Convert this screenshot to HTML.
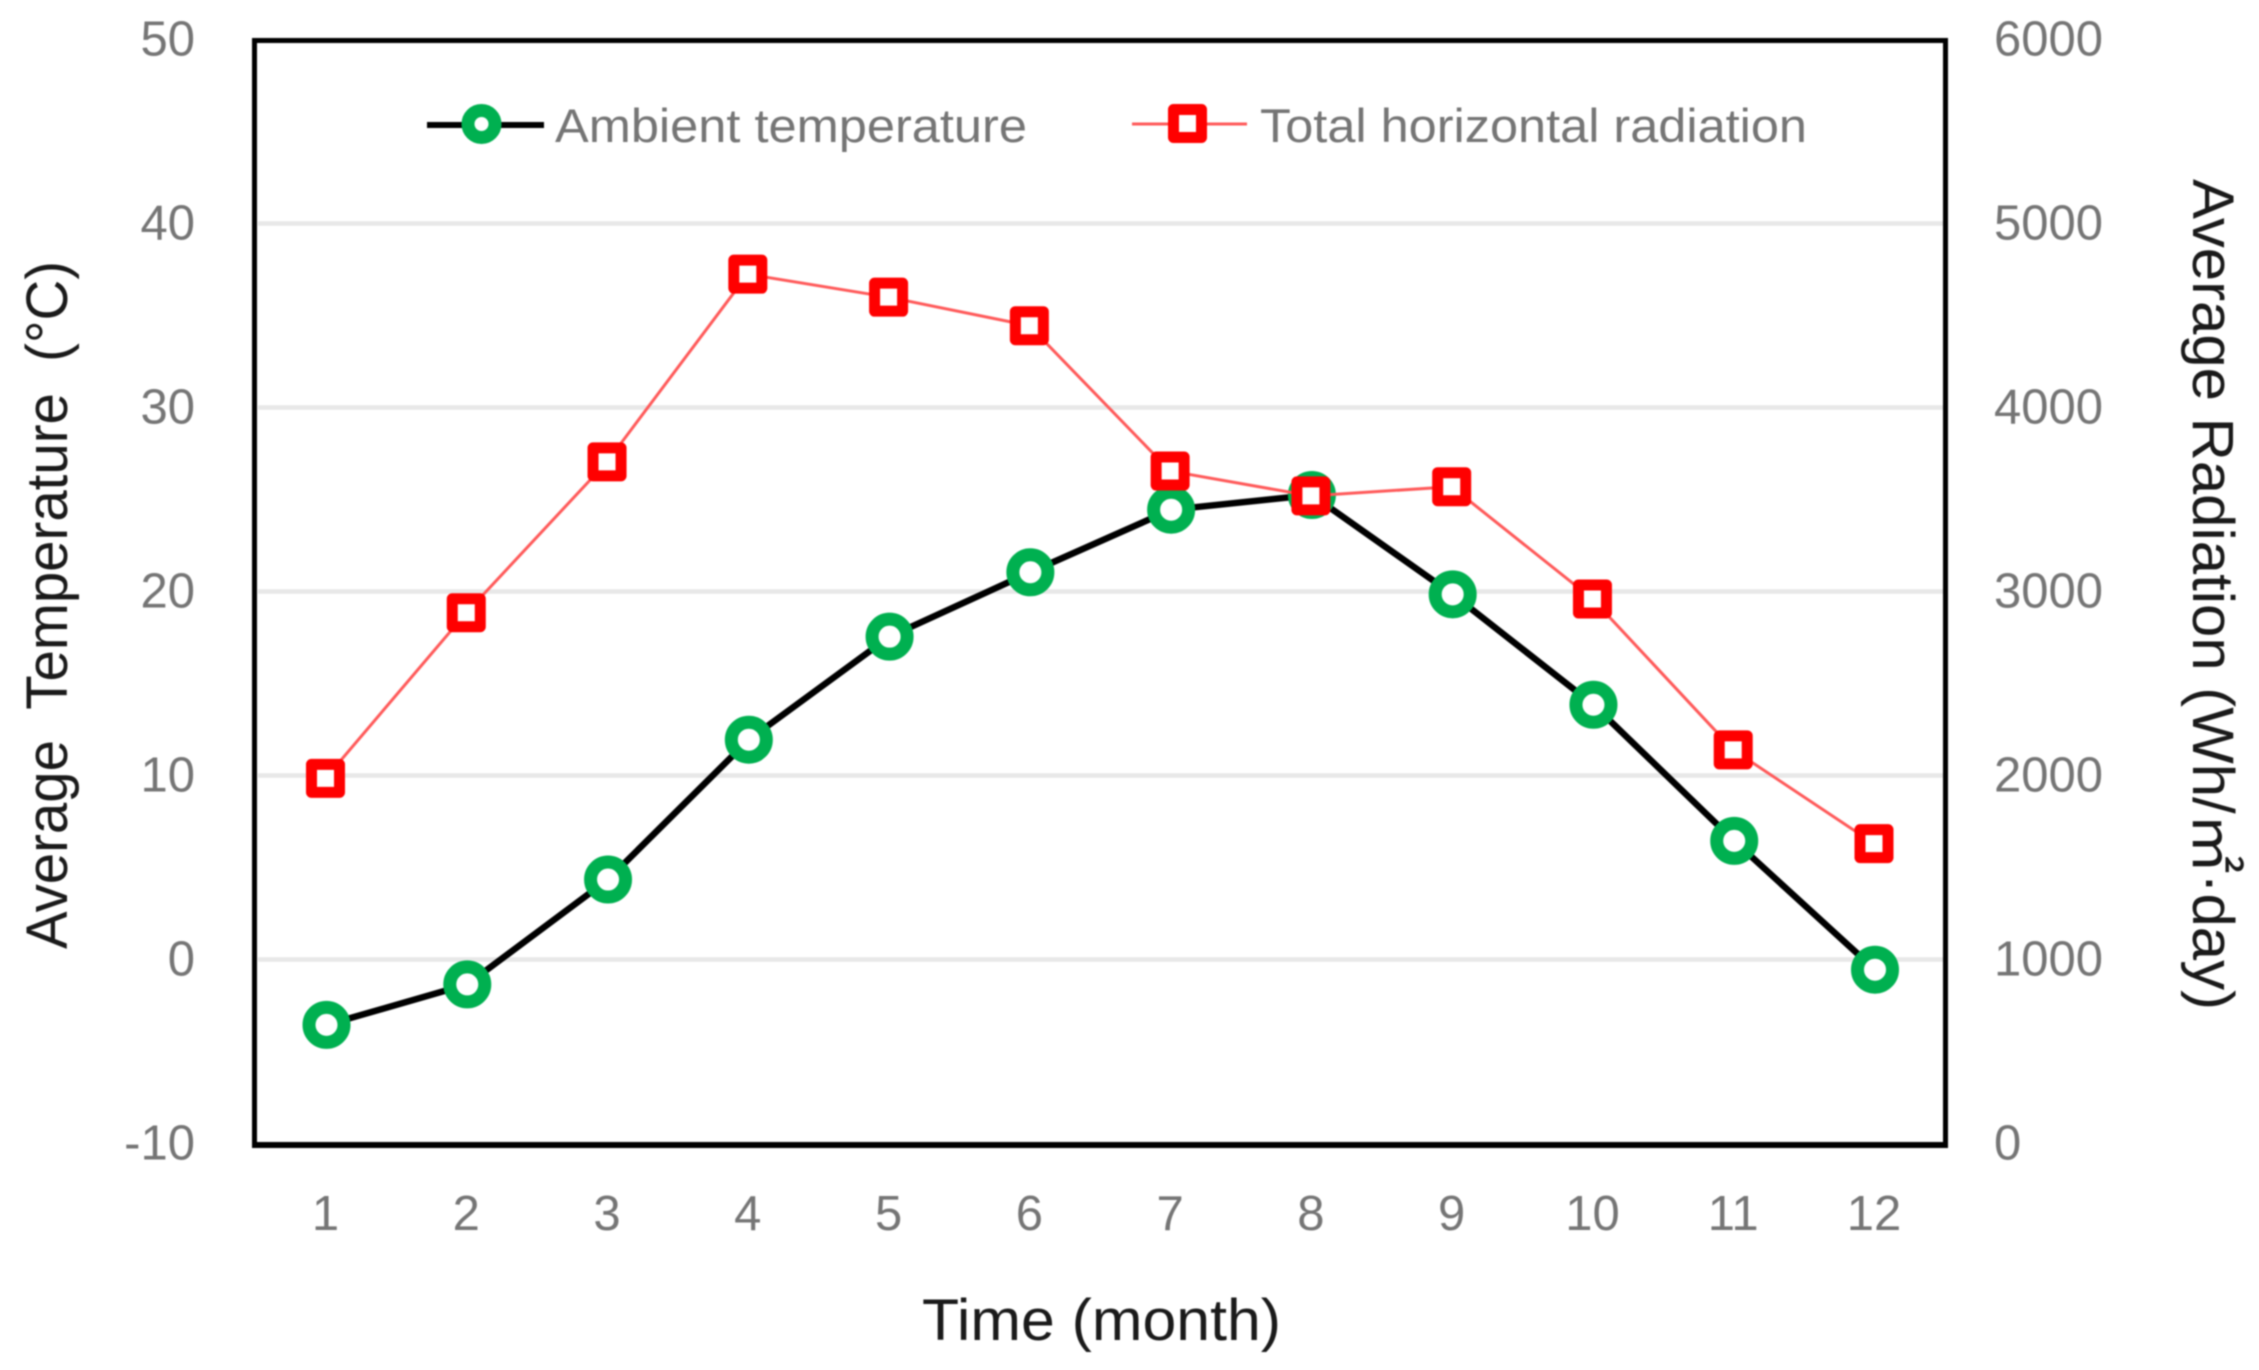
<!DOCTYPE html>
<html lang="en">
<head>
<meta charset="utf-8">
<title>Average temperature and radiation by month</title>
<style>
  html, body { margin: 0; padding: 0; background: #fff; }
  svg { display: block; font-family: "Liberation Sans", "Noto Sans CJK KR", sans-serif; filter: blur(0.7px); }
  .tick { font-size: 49px; fill: #757575; }
  .legend-text { font-size: 47px; fill: #757575; }
  .title { font-size: 58px; fill: #1a1a1a; }
</style>
</head>
<body>
<svg id="chart" xmlns="http://www.w3.org/2000/svg" width="2259" height="1370" viewBox="0 0 2259 1370">
  <rect x="0" y="0" width="2259" height="1370" fill="#ffffff"/>
  <g id="grid"></g>
  <rect x="254.5" y="40.5" width="1691" height="1104" fill="none" stroke="#000000" stroke-width="5"/>
  <line x1="252" y1="1145" x2="1948" y2="1145" stroke="#000000" stroke-width="6"/>
  <g id="left-ticks"></g>
  <g id="right-ticks"></g>
  <g id="x-ticks"></g>
  <g id="temp-series"></g>
  <g id="rad-series"></g>

  <g>
    <g>
      <line x1="427" y1="125" x2="544" y2="125" stroke="#000000" stroke-width="6"/>
      <ellipse cx="481.5" cy="124" rx="13.5" ry="13.5" fill="#ffffff" stroke="#00b050" stroke-width="13"/>
      <text class="legend-text" x="555" y="142" textLength="472" lengthAdjust="spacingAndGlyphs">Ambient temperature</text>
    </g>
    <g>
      <line x1="1132" y1="124" x2="1247" y2="124" stroke="#ff5a5a" stroke-width="3"/>
      <rect x="1173.5" y="109.5" width="28" height="28" fill="#ffffff" stroke="#ff0000" stroke-width="11" stroke-linejoin="round"/>
      <text class="legend-text" x="1260" y="142" textLength="547" lengthAdjust="spacingAndGlyphs">Total horizontal radiation</text>
    </g>
  </g>

  <text class="title" transform="translate(67 949) rotate(-90)" x="0" y="0" textLength="688" lengthAdjust="spacingAndGlyphs" xml:space="preserve">Average  Temperature  (°C)</text>
  <text class="title" transform="translate(2193 179) rotate(90)" x="0" y="0" textLength="831" lengthAdjust="spacingAndGlyphs">Average Radiation (Wh/㎡·day)</text>
  <text class="title" x="922" y="1340" textLength="359" lengthAdjust="spacingAndGlyphs" xml:space="preserve">Time (month)</text>
</svg>
<script>
const months = ["1", "2", "3", "4", "5", "6", "7", "8", "9", "10", "11", "12"];
const temperature = [-3.5, -1.3, 4.4, 12.0, 17.6, 21.1, 24.5, 25.3, 19.9, 13.9, 6.5, -0.5];
const radiation = [1990, 2890, 3710, 4730, 4605, 4450, 3660, 3525, 3575, 2965, 2145, 1635];
const leftTicks = [-10, 0, 10, 20, 30, 40, 50];
const rightTicks = [0, 1000, 2000, 3000, 4000, 5000, 6000];
const gridValues = [0, 10, 20, 30, 40];

const NS = "http://www.w3.org/2000/svg";
const plotTop = 40.5, plotBottom = 1144.5;
const firstCategoryX = 326.5, lastCategoryX = 1875;

function xScale(i) {
  return firstCategoryX + (lastCategoryX - firstCategoryX) * i / (months.length - 1);
}
function yLeft(v) {
  const min = leftTicks[0], max = leftTicks[leftTicks.length - 1];
  return plotBottom - (v - min) / (max - min) * (plotBottom - plotTop);
}
function yRight(v) {
  const min = rightTicks[0], max = rightTicks[rightTicks.length - 1];
  return plotBottom - (v - min) / (max - min) * (plotBottom - plotTop);
}
function make(tag, attrs, parent) {
  const el = document.createElementNS(NS, tag);
  for (const k in attrs) el.setAttribute(k, attrs[k]);
  parent.appendChild(el);
  return el;
}

const gridGroup = document.getElementById("grid");
gridValues.forEach(function (v) {
  const line = make("line", { x1: 258, x2: 1943, y1: yLeft(v) - 1, y2: yLeft(v) - 1, stroke: "#e8e8e8", "stroke-width": 4.5 }, gridGroup);
  
  
});

const leftGroup = document.getElementById("left-ticks");
leftTicks.forEach(function (v) {
  const t = make("text", { class: "tick", x: 195, y: yLeft(v) + 15, "text-anchor": "end" }, leftGroup);
  t.textContent = String(v);
  
  
});

const rightGroup = document.getElementById("right-ticks");
rightTicks.forEach(function (v) {
  const t = make("text", { class: "tick", x: 1994, y: yRight(v) + 15 }, rightGroup);
  t.textContent = String(v);
  
  
});

const xGroup = document.getElementById("x-ticks");
months.forEach(function (m, i) {
  const t = make("text", { class: "tick", x: xScale(i) - 1, y: 1230, "text-anchor": "middle" }, xGroup);
  t.textContent = m;
  
  
});

const tempGroup = document.getElementById("temp-series");
const tempLine = make("polyline", {
  points: temperature.map(function (v, i) { return xScale(i) + "," + yLeft(v); }).join(" "),
  fill: "none", stroke: "#000000", "stroke-width": 6.5, "stroke-linejoin": "round"
}, tempGroup);


temperature.forEach(function (v, i) {
  const c = make("circle", { cx: xScale(i), cy: yLeft(v), r: 17.5, fill: "#ffffff", stroke: "#00b050", "stroke-width": 13 }, tempGroup);
  
  
});

const radGroup = document.getElementById("rad-series");
const radLine = make("polyline", {
  points: radiation.map(function (v, i) { return (xScale(i) - 1) + "," + yRight(v); }).join(" "),
  fill: "none", stroke: "#ff5a5a", "stroke-width": 3, "stroke-linejoin": "round"
}, radGroup);


radiation.forEach(function (v, i) {
  const half = 14;
  const r = make("rect", {
    x: xScale(i) - 1 - half, y: yRight(v) - half, width: half * 2, height: half * 2,
    fill: "#ffffff", stroke: "#ff0000", "stroke-width": 11, "stroke-linejoin": "round"
  }, radGroup);
  
  
});
</script>
</body>
</html>
